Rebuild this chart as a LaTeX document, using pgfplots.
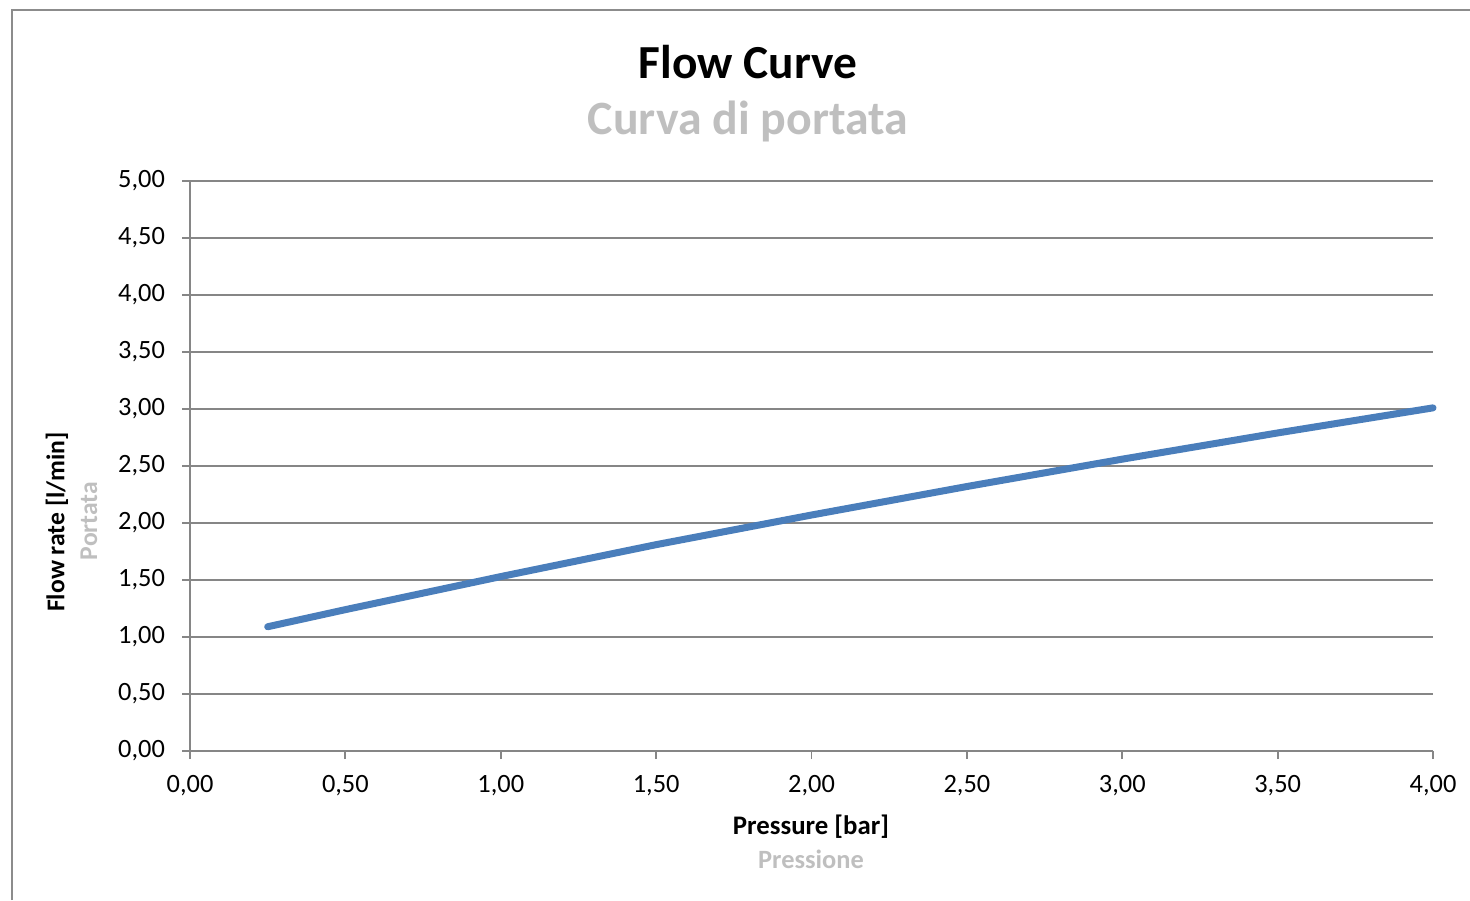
\documentclass[border=0pt]{standalone}
\usepackage{pgfplots}
\pgfplotsset{compat=1.18}
\usepackage{fontspec}
\setmainfont{Carlito}
\definecolor{linecol}{HTML}{4A7EBB}
\definecolor{gridcol}{HTML}{868686}
\definecolor{subcol}{HTML}{BFBFBF}
\definecolor{framecol}{HTML}{8C8C8C}
\begin{document}
\begin{tikzpicture}[x=0.5pt,y=0.5pt]
\useasboundingbox (0,0) rectangle (1470,900);
\draw[framecol, line width=1pt] (12,0) -- (12,890) -- (1475,890);
\begin{axis}[
  at={(95pt,74.5pt)}, anchor=south west,
  scale only axis, width=621.5pt, height=285pt,
  xmin=0, xmax=4, ymin=0, ymax=5,
  xtick={0,0.5,1,1.5,2,2.5,3,3.5,4},
  ytick={0,0.5,1,1.5,2,2.5,3,3.5,4,4.5,5},
  axis x line*=bottom, axis y line*=left,
  axis line style={gridcol, line width=0.9pt, -},
  tick align=outside, major tick length=4pt,
  tick style={gridcol, line width=0.9pt},
  ymajorgrids, grid style={gridcol, line width=0.9pt},
  xticklabel style={font=\fontsize{13.2}{16}\selectfont, yshift=-4.5pt},
  yticklabel style={font=\fontsize{13.2}{16}\selectfont, xshift=-5pt},
  /pgf/number format/.cd, fixed, fixed zerofill, precision=2, use comma, assume math mode=true,
  /pgfplots/.cd,
  clip=false,
]
\addplot[linecol, line width=3.5pt, line cap=round, line join=round] coordinates {
  (0.25,1.09) (0.5,1.24) (1.0,1.53) (1.5,1.81) (2.0,2.07) (2.5,2.32) (3.0,2.56) (3.5,2.79) (4.0,3.01)
};
\end{axis}
\node[font=\fontsize{23.7}{28}\selectfont\bfseries] at (748,838) {Flow Curve};
\node[font=\fontsize{23.9}{28}\selectfont\bfseries, text=subcol] at (748,779) {Curva di portata};
\node[font=\fontsize{13.4}{16}\selectfont\bfseries] at (811,73) {Pressure [bar]};
\node[font=\fontsize{13.2}{16}\selectfont\bfseries, text=subcol] at (811,41) {Pressione};
\node[font=\fontsize{12.8}{15}\selectfont\bfseries, rotate=90] at (57,378) {Flow rate [l/min]};
\node[font=\fontsize{12.8}{15}\selectfont\bfseries, text=subcol, rotate=90] at (89,379) {Portata};
\end{tikzpicture}
\end{document}
